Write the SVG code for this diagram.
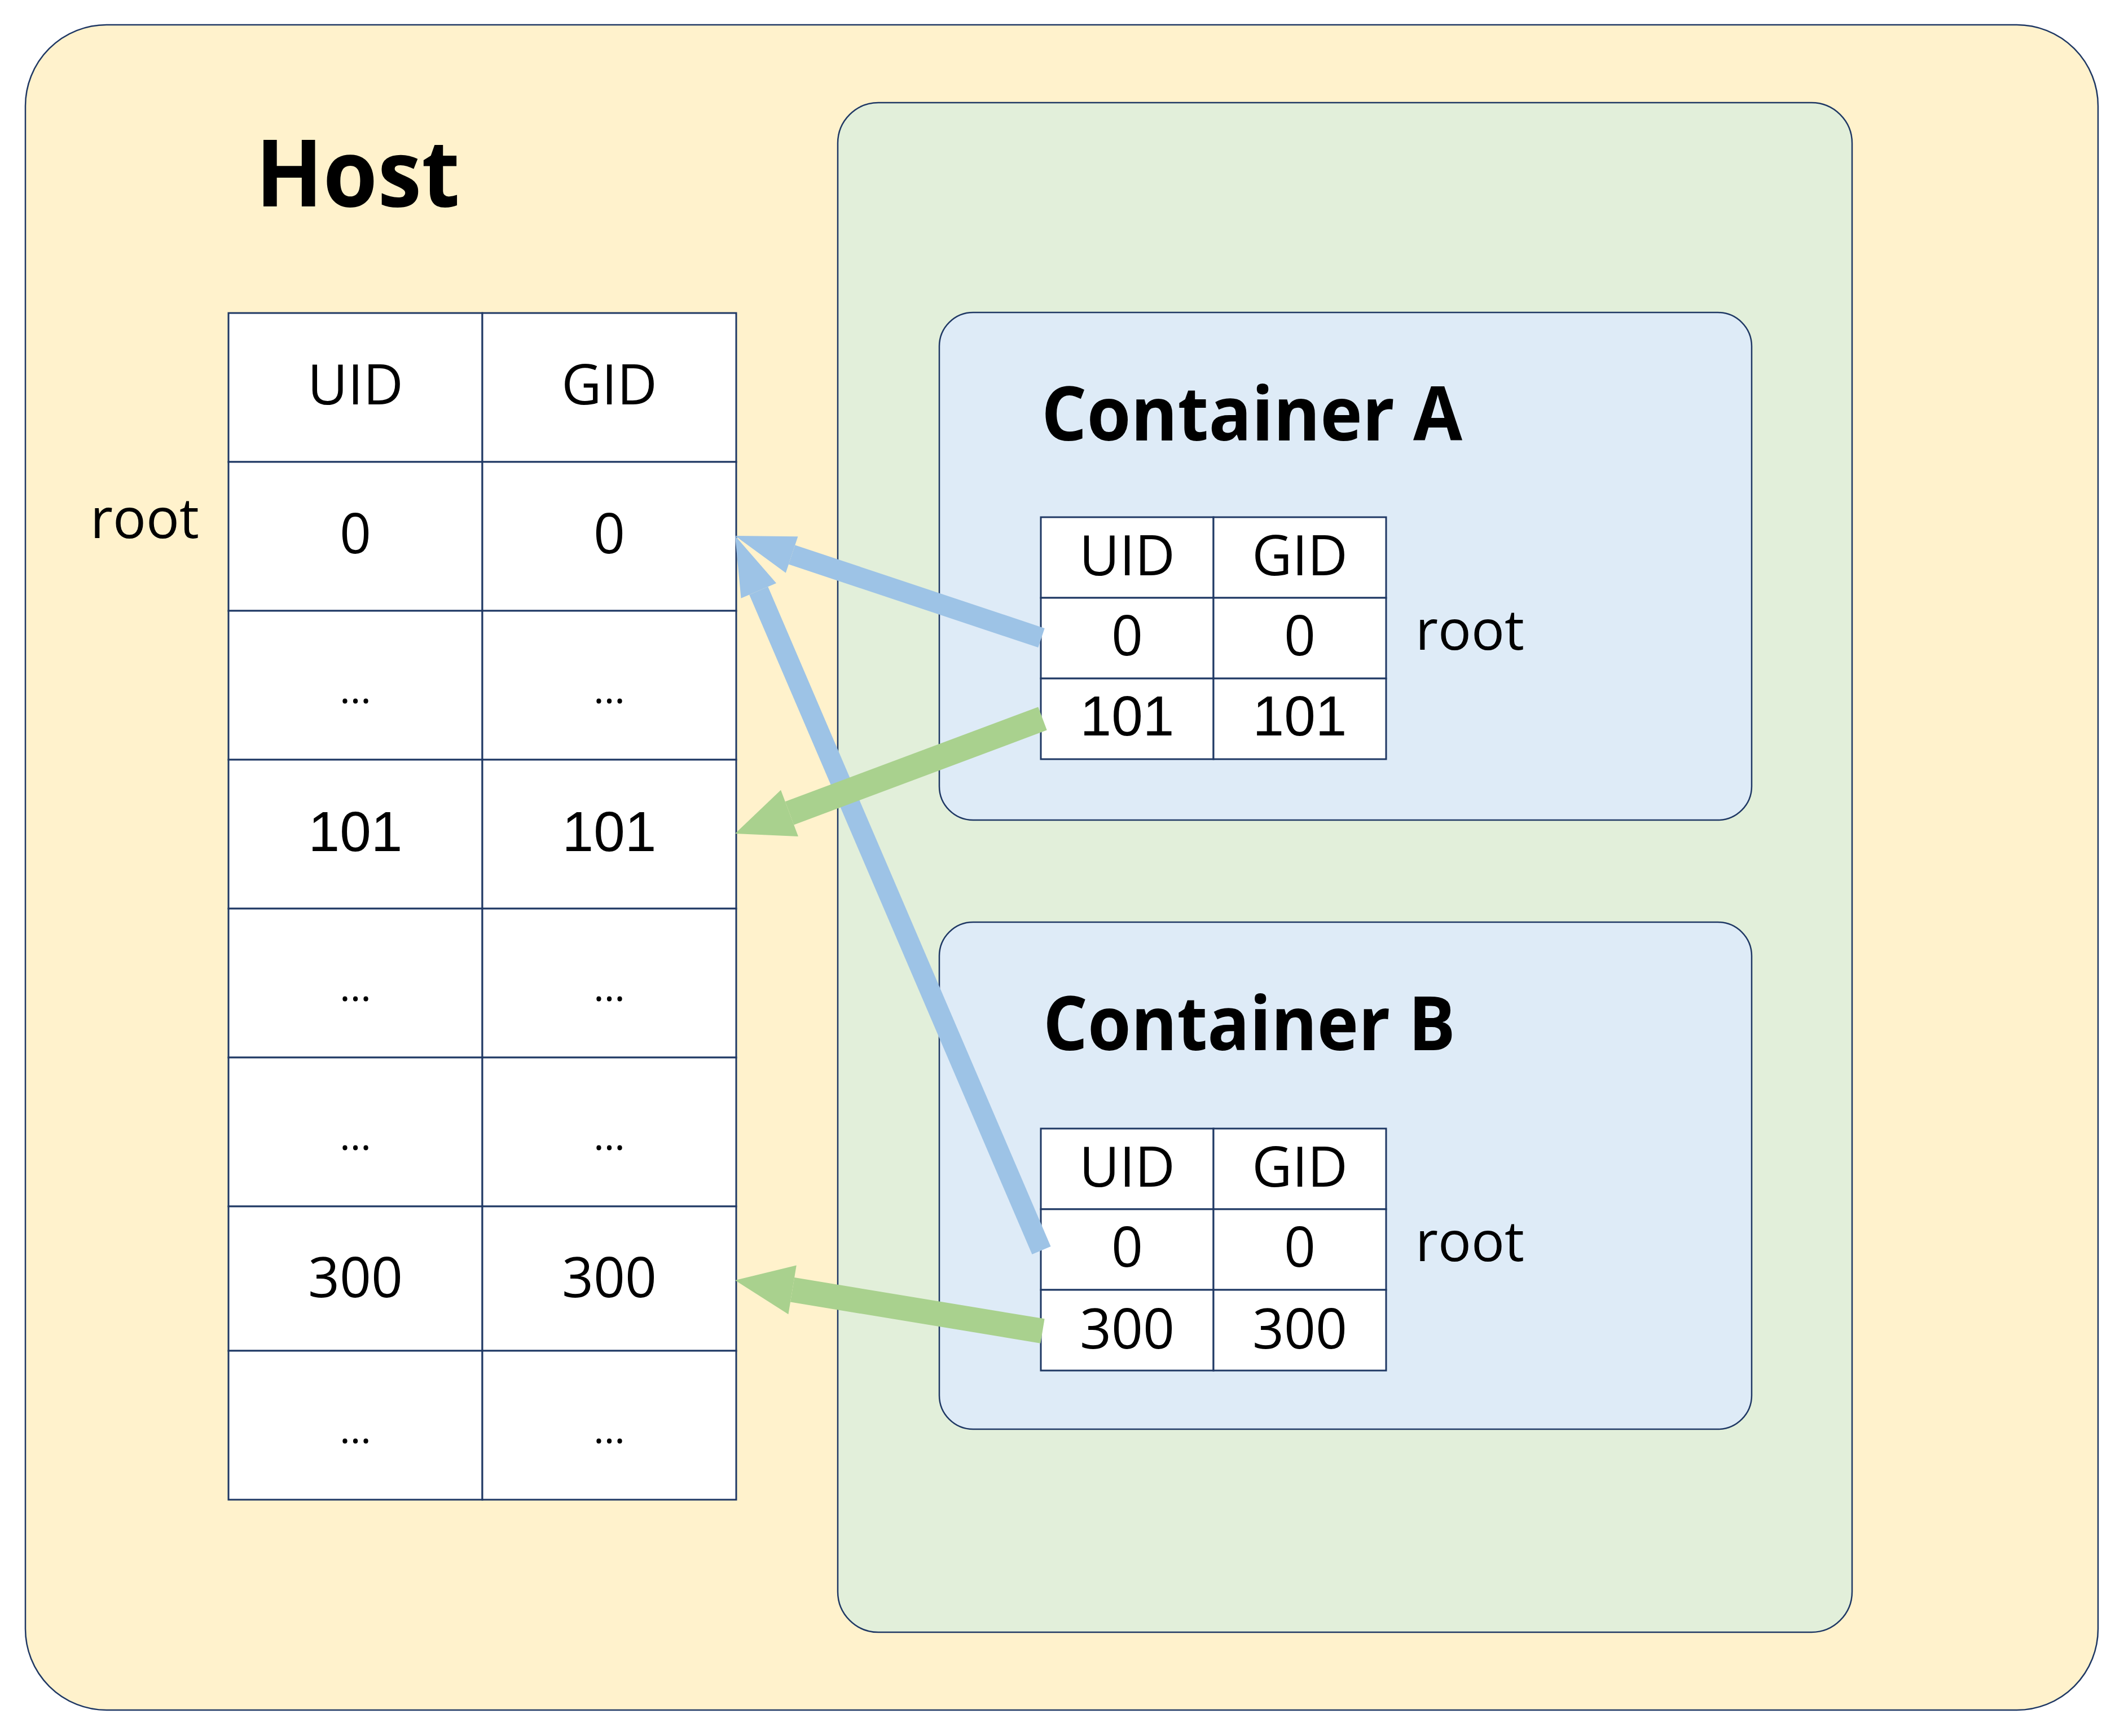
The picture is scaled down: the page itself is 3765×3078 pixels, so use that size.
<svg xmlns="http://www.w3.org/2000/svg" width="3765" height="3078" viewBox="0 0 3765 3078">
<style>
.frame{stroke:#1F3864;stroke-width:2.5}
.cell{fill:#FFFFFF;stroke:#1F3864;stroke-width:3}
.t{font-family:"Open Sans","Noto Sans","DejaVu Sans",sans-serif;font-size:98px;fill:#000;text-anchor:middle}
.n{font-family:"Liberation Sans",Arial,sans-serif;font-size:100px;fill:#000;text-anchor:middle}
.dots{font-family:"Open Sans","Noto Sans",sans-serif;font-size:72px;fill:#000;text-anchor:middle}
.lbl{font-family:"Open Sans","Noto Sans","DejaVu Sans",sans-serif;font-size:98px;fill:#000}
.title{font-family:"Open Sans","Noto Sans","DejaVu Sans",sans-serif;font-weight:bold;fill:#000}
.ab{stroke:#9DC3E6;stroke-width:36;fill:none;stroke-linecap:butt}
.ag{stroke:#A9D18E;stroke-width:44;fill:none;stroke-linecap:butt}
</style>
<defs>
<marker id="hb" markerUnits="userSpaceOnUse" markerWidth="106" markerHeight="68" refX="0" refY="34" orient="auto" overflow="visible">
<path d="M0,0 L106,34 L0,68 Z" fill="#9DC3E6"/>
</marker>
<marker id="hg" markerUnits="userSpaceOnUse" markerWidth="103" markerHeight="88" refX="0" refY="44" orient="auto" overflow="visible">
<path d="M0,0 L103,44 L0,88 Z" fill="#A9D18E"/>
</marker>
</defs>
<rect width="3765" height="3078" fill="#FFFFFF"/>
<g id="host">
<rect class="frame" x="45" y="44" width="3674" height="2988" rx="144" ry="144" fill="#FFF2CC"/>
<text class="title" x="453" y="366" font-size="165" textLength="362" lengthAdjust="spacingAndGlyphs">Host</text>
<text class="lbl" x="160" y="954">root</text>
</g>
<g id="host-table">
<rect class="cell" x="405" y="555" width="450" height="264"/>
<rect class="cell" x="855" y="555" width="450" height="264"/>
<rect class="cell" x="405" y="819" width="450" height="264"/>
<rect class="cell" x="855" y="819" width="450" height="264"/>
<rect class="cell" x="405" y="1083" width="450" height="264"/>
<rect class="cell" x="855" y="1083" width="450" height="264"/>
<rect class="cell" x="405" y="1347" width="450" height="264"/>
<rect class="cell" x="855" y="1347" width="450" height="264"/>
<rect class="cell" x="405" y="1611" width="450" height="264"/>
<rect class="cell" x="855" y="1611" width="450" height="264"/>
<rect class="cell" x="405" y="1875" width="450" height="264"/>
<rect class="cell" x="855" y="1875" width="450" height="264"/>
<rect class="cell" x="405" y="2139" width="450" height="256"/>
<rect class="cell" x="855" y="2139" width="450" height="256"/>
<rect class="cell" x="405" y="2395" width="450" height="264"/>
<rect class="cell" x="855" y="2395" width="450" height="264"/>
<text class="t" x="630" y="717">UID</text>
<text class="t" x="1080" y="717">GID</text>
<text class="t" x="630" y="981">0</text>
<text class="t" x="1080" y="981">0</text>
<text class="dots" x="630" y="1247">…</text>
<text class="dots" x="1080" y="1247">…</text>
<text class="n" x="630" y="1509">101</text>
<text class="n" x="1080" y="1509">101</text>
<text class="dots" x="630" y="1775">…</text>
<text class="dots" x="1080" y="1775">…</text>
<text class="dots" x="630" y="2039">…</text>
<text class="dots" x="1080" y="2039">…</text>
<text class="t" x="630" y="2300">300</text>
<text class="t" x="1080" y="2300">300</text>
<text class="dots" x="630" y="2559">…</text>
<text class="dots" x="1080" y="2559">…</text>
</g>
<g id="containers">
<rect class="frame" x="1485" y="182" width="1798" height="2712" rx="72" ry="72" fill="#E2EFDA"/>
</g>
<g id="container-a">
<rect class="frame" x="1665" y="554" width="1440" height="900" rx="60" ry="60" fill="#DEEBF7"/>
<text class="title" x="1846" y="781" font-size="133" textLength="746" lengthAdjust="spacingAndGlyphs">Container A</text>
<rect class="cell" x="1845" y="917" width="306" height="143"/>
<rect class="cell" x="2151" y="917" width="306" height="143"/>
<rect class="cell" x="1845" y="1060" width="306" height="143"/>
<rect class="cell" x="2151" y="1060" width="306" height="143"/>
<rect class="cell" x="1845" y="1203" width="306" height="143"/>
<rect class="cell" x="2151" y="1203" width="306" height="143"/>
<text class="t" x="1998" y="1020">UID</text>
<text class="t" x="2304" y="1020">GID</text>
<text class="t" x="1998" y="1162">0</text>
<text class="t" x="2304" y="1162">0</text>
<text class="n" x="1998" y="1304">101</text>
<text class="n" x="2304" y="1304">101</text>
<text class="lbl" x="2509" y="1152">root</text>
</g>
<g id="container-b">
<rect class="frame" x="1665" y="1635" width="1440" height="899" rx="60" ry="60" fill="#DEEBF7"/>
<text class="title" x="1849" y="1862" font-size="133" textLength="731" lengthAdjust="spacingAndGlyphs">Container B</text>
<rect class="cell" x="1845" y="2001" width="306" height="143"/>
<rect class="cell" x="2151" y="2001" width="306" height="143"/>
<rect class="cell" x="1845" y="2144" width="306" height="143"/>
<rect class="cell" x="2151" y="2144" width="306" height="143"/>
<rect class="cell" x="1845" y="2287" width="306" height="143"/>
<rect class="cell" x="2151" y="2287" width="306" height="143"/>
<text class="t" x="1998" y="2104">UID</text>
<text class="t" x="2304" y="2104">GID</text>
<text class="t" x="1998" y="2246">0</text>
<text class="t" x="2304" y="2246">0</text>
<text class="t" x="1998" y="2391">300</text>
<text class="t" x="2304" y="2391">300</text>
<text class="lbl" x="2509" y="2236">root</text>
</g>
<g id="connectors">
<line class="ab" x1="1846" y1="1131" x2="1403.6" y2="983.5" marker-end="url(#hb)"/>
<line class="ab" x1="1846" y1="2217" x2="1344.8" y2="1047.4" marker-end="url(#hb)"/>
<line class="ag" x1="1848" y1="1274" x2="1399.5" y2="1441.9" marker-end="url(#hg)"/>
<line class="ag" x1="1848" y1="2360" x2="1404.6" y2="2286.8" marker-end="url(#hg)"/>
</g>
</svg>
